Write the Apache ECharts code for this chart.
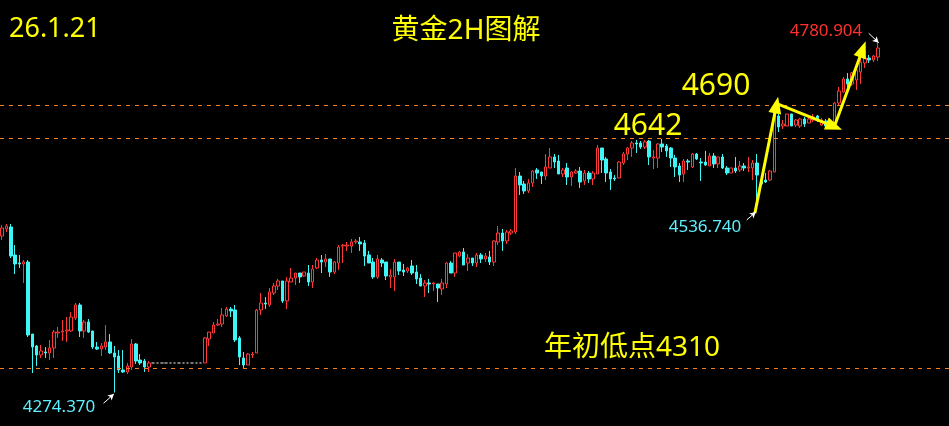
<!DOCTYPE html>
<html>
<head>
<meta charset="utf-8">
<script src="https://cdn.jsdelivr.net/npm/echarts@6/dist/echarts.min.js"></script>
<style>
html,body{margin:0;padding:0;background:#000;}
#c{width:949px;height:426px;}
</style>
</head>
<body>
<div id="c"></div>
<script>
// slots on the category axis (index -1 .. 218)
const categories = Array.from({length: 220}, (_, i) => String(i - 1));

// [open, close, low, high]
const ohlc = [
[4500.7,4512.3,4495.0,4516.6],
[4510.9,4515.2,4506.5,4518.1],
[4513.8,4471.8,4468.9,4518.1],
[4473.3,4460.3,4445.8,4487.7],
[4461.7,4460.3,4454.5,4473.3],
[4460.3,4463.1,4432.8,4466.0],
[4463.1,4357.6,4354.7,4466.0],
[4359.0,4340.2,4302.6,4359.0],
[4341.7,4328.7,4312.8,4343.1],
[4328.7,4334.5,4324.3,4343.1],
[4333.0,4331.6,4324.3,4340.2],
[4331.6,4338.8,4321.4,4350.4],
[4338.8,4361.9,4324.3,4364.8],
[4360.5,4361.9,4353.3,4369.2],
[4361.9,4363.4,4348.9,4379.3],
[4363.4,4364.8,4347.5,4383.6],
[4363.4,4383.6,4361.9,4390.8],
[4382.2,4401.0,4379.3,4403.9],
[4401.0,4363.4,4354.7,4403.9],
[4363.4,4376.4,4353.3,4379.3],
[4376.4,4361.9,4360.5,4380.7],
[4363.4,4340.2,4337.3,4363.4],
[4340.2,4337.3,4335.9,4347.5],
[4337.3,4341.7,4327.2,4346.0],
[4340.2,4347.5,4335.9,4372.0],
[4347.5,4331.6,4330.1,4359.0],
[4331.6,4325.8,4274.37,4341.7],
[4327.2,4307.0,4302.6,4335.9],
[4307.0,4304.1,4302.6,4335.9],
[4304.1,4312.8,4301.2,4317.1],
[4311.3,4344.6,4307.0,4351.8],
[4344.6,4320.0,4315.7,4346.0],
[4321.4,4317.1,4314.2,4330.1],
[4320.0,4311.3,4304.1,4322.9],
[4311.3,4317.1,4304.1,4320.0],
[4317.1,4317.1,4317.1,4317.1],
[4317.1,4317.1,4317.1,4317.1],
[4317.1,4317.1,4317.1,4317.1],
[4317.1,4317.1,4317.1,4317.1],
[4317.1,4317.1,4317.1,4317.1],
[4317.1,4317.1,4317.1,4317.1],
[4317.1,4317.1,4317.1,4317.1],
[4317.1,4317.1,4317.1,4317.1],
[4317.1,4317.1,4317.1,4317.1],
[4317.1,4317.1,4317.1,4317.1],
[4317.1,4317.1,4317.1,4317.1],
[4317.1,4317.1,4317.1,4317.1],
[4317.1,4353.3,4317.1,4354.7],
[4351.8,4361.9,4341.7,4361.9],
[4360.5,4372.0,4360.5,4376.4],
[4372.0,4373.5,4370.6,4380.7],
[4373.5,4386.5,4369.2,4396.6],
[4385.1,4395.2,4383.6,4398.1],
[4395.2,4392.3,4383.6,4398.1],
[4393.7,4350.4,4347.5,4401.0],
[4353.3,4325.8,4314.2,4356.1],
[4324.3,4314.2,4309.9,4333.0],
[4314.2,4330.1,4314.2,4331.6],
[4328.7,4330.1,4324.3,4333.0],
[4331.6,4393.7,4331.6,4395.2],
[4393.7,4403.9,4386.5,4418.3],
[4403.9,4402.4,4395.2,4412.5],
[4401.0,4419.8,4398.1,4425.6],
[4418.3,4428.4,4415.4,4432.8],
[4428.4,4435.7,4422.7,4438.6],
[4435.7,4406.8,4403.9,4435.7],
[4406.8,4435.7,4395.2,4441.5],
[4434.2,4440.0,4434.2,4454.5],
[4440.0,4447.2,4429.9,4447.2],
[4447.2,4441.5,4432.8,4447.2],
[4442.9,4448.7,4441.5,4448.7],
[4447.2,4434.2,4428.4,4458.8],
[4434.2,4453.0,4425.6,4458.8],
[4454.5,4466.0,4453.0,4468.9],
[4466.0,4463.1,4447.2,4473.3],
[4463.1,4467.5,4455.9,4474.7],
[4467.5,4448.7,4441.5,4467.5],
[4448.7,4463.1,4445.8,4464.6],
[4461.7,4484.8,4451.6,4487.7],
[4486.3,4487.7,4461.7,4489.2],
[4486.3,4487.7,4479.1,4492.1],
[4486.3,4492.1,4476.2,4496.4],
[4492.1,4493.5,4489.2,4496.4],
[4492.1,4489.2,4479.1,4499.3],
[4490.6,4471.8,4457.4,4495.0],
[4473.3,4461.7,4461.7,4479.1],
[4463.1,4441.5,4438.6,4468.9],
[4441.5,4467.5,4438.6,4473.3],
[4466.0,4461.7,4455.9,4468.9],
[4463.1,4442.9,4437.1,4463.1],
[4441.5,4444.3,4425.6,4453.0],
[4441.5,4463.1,4421.2,4467.5],
[4463.1,4450.1,4444.3,4463.1],
[4451.6,4448.7,4442.9,4460.3],
[4450.1,4454.5,4447.2,4455.9],
[4457.4,4447.2,4444.3,4466.0],
[4448.7,4438.6,4431.3,4458.8],
[4440.0,4428.4,4428.4,4445.8],
[4428.4,4432.8,4412.5,4437.1],
[4432.8,4431.3,4418.3,4438.6],
[4431.3,4432.8,4421.2,4434.2],
[4431.3,4425.6,4405.3,4431.3],
[4424.1,4432.8,4415.4,4438.6],
[4431.3,4461.7,4425.6,4463.1],
[4461.7,4447.2,4447.2,4464.6],
[4447.2,4476.2,4441.5,4476.2],
[4471.8,4477.6,4470.4,4479.1],
[4477.6,4458.8,4458.8,4483.4],
[4461.7,4468.9,4450.1,4474.7],
[4468.9,4461.7,4457.4,4468.9],
[4461.7,4473.3,4455.9,4476.2],
[4473.3,4467.5,4461.7,4476.2],
[4467.5,4471.8,4463.1,4476.2],
[4470.4,4463.1,4458.8,4479.1],
[4463.1,4493.5,4457.4,4495.0],
[4492.1,4505.1,4487.7,4515.2],
[4505.1,4493.5,4479.1,4510.9],
[4493.5,4506.5,4489.2,4509.4],
[4505.1,4508.0,4502.2,4510.9],
[4506.5,4587.5,4503.6,4599.1],
[4587.5,4574.5,4560.0,4593.3],
[4575.9,4565.8,4561.5,4580.3],
[4565.8,4577.4,4562.9,4583.2],
[4577.4,4594.7,4571.6,4596.2],
[4596.2,4591.8,4583.2,4599.1],
[4593.3,4587.5,4575.9,4593.3],
[4587.5,4600.5,4581.7,4619.3],
[4599.1,4615.0,4599.1,4628.0],
[4615.0,4607.7,4599.1,4619.3],
[4609.2,4590.4,4590.4,4617.9],
[4590.4,4596.2,4586.1,4599.1],
[4599.1,4586.1,4574.5,4606.3],
[4586.1,4593.3,4573.0,4594.7],
[4591.8,4594.7,4590.4,4597.6],
[4594.7,4578.8,4570.2,4600.5],
[4580.3,4591.8,4574.5,4596.2],
[4591.8,4583.2,4577.4,4594.7],
[4583.2,4591.8,4574.5,4594.7],
[4590.4,4628.0,4590.4,4632.3],
[4628.0,4610.6,4591.8,4628.0],
[4612.1,4591.8,4578.8,4615.0],
[4593.3,4583.2,4567.3,4597.6],
[4584.6,4583.2,4580.3,4588.9],
[4584.6,4607.7,4584.6,4609.2],
[4606.3,4619.3,4603.4,4622.2],
[4619.3,4628.0,4610.6,4629.4],
[4628.0,4635.2,4615.0,4638.1],
[4635.2,4633.8,4620.8,4639.6],
[4635.2,4629.4,4626.5,4638.1],
[4629.4,4636.7,4626.5,4639.6],
[4638.1,4615.0,4603.4,4639.6],
[4613.5,4615.0,4597.6,4625.1],
[4613.5,4633.8,4599.1,4635.2],
[4633.8,4629.4,4622.2,4641.0],
[4630.9,4623.7,4615.0,4633.8],
[4628.0,4613.5,4600.5,4629.4],
[4613.5,4600.5,4586.1,4617.9],
[4602.0,4588.9,4578.8,4606.3],
[4590.4,4609.2,4578.8,4612.1],
[4609.2,4607.7,4596.2,4612.1],
[4600.5,4619.3,4599.1,4620.8],
[4619.3,4612.1,4610.6,4620.8],
[4607.7,4606.3,4580.3,4613.5],
[4607.7,4603.4,4602.0,4623.7],
[4602.0,4616.4,4602.0,4620.8],
[4616.4,4604.9,4599.1,4620.8],
[4604.9,4615.0,4599.1,4615.0],
[4615.0,4599.1,4597.6,4619.3],
[4599.1,4591.8,4588.9,4602.0],
[4591.8,4599.1,4591.8,4599.1],
[4599.1,4594.7,4591.8,4615.0],
[4596.2,4602.0,4593.3,4609.2],
[4602.0,4599.1,4594.7,4606.3],
[4599.1,4600.5,4593.3,4615.0],
[4599.1,4606.3,4581.7,4610.6],
[4606.3,4588.9,4536.74,4619.3],
[4580.3,4575.9,4574.5,4583.2],
[4581.7,4578.8,4577.4,4591.8],
[4581.7,4594.7,4580.3,4596.2],
[4593.3,4688.7,4593.3,4690.2],
[4674.3,4658.4,4651.1,4677.2],
[4659.8,4662.7,4655.5,4668.5],
[4659.8,4677.2,4659.8,4677.2],
[4677.2,4659.8,4659.8,4677.2],
[4661.2,4668.5,4658.4,4669.9],
[4659.8,4669.9,4656.9,4671.4],
[4669.9,4662.7,4658.4,4672.8],
[4664.1,4669.9,4664.1,4672.8],
[4668.5,4672.8,4665.6,4677.2],
[4674.3,4668.5,4665.6,4675.7],
[4661.2,4668.5,4659.8,4671.4],
[4667.0,4659.8,4658.4,4669.9],
[4665.6,4659.8,4656.9,4668.5],
[4665.6,4693.1,4659.8,4694.5],
[4693.1,4710.4,4690.2,4716.2],
[4709.0,4727.8,4707.5,4730.7],
[4727.8,4720.5,4716.2,4736.4],
[4720.5,4736.4,4717.6,4737.9],
[4726.3,4740.8,4711.9,4746.6],
[4737.9,4752.3,4720.5,4763.9],
[4750.9,4758.1,4743.7,4765.4],
[4758.1,4755.2,4750.9,4762.5],
[4755.2,4761.0,4752.3,4762.5],
[4759.6,4772.6,4753.8,4780.904]
];

// horizontal reference levels
const refLevels = [4690, 4642, 4310];

// yellow trend arrows [[idx, price] -> [idx, price]]
const trendArrows = [
  [[173.5, 4533.6], [178.5, 4690.2]],
  [[179.0, 4691.0], [191.9, 4658.8]],
  [[191.9, 4658.8], [198.5, 4770.7]]
];

// small white pointer arrows
const pointerArrows = [
  [[22.5, 4258.8], [24.9, 4272.3]],
  [[171.6, 4523.9], [173.7, 4535.4]],
  [[199.9, 4793.8], [202.2, 4780.3]]
];

const chart = echarts.init(document.getElementById('c'), null, {renderer: 'canvas'});

const txt = (t, x, y, size, color, align) => ({
  type: 'text', x: x, y: y, silent: true,
  style: {text: t, fill: color, font: size + 'px "Noto Sans", "Noto Sans CJK SC", sans-serif',
          textAlign: align || 'left', textVerticalAlign: 'middle'}
});

chart.setOption({
  backgroundColor: '#000000',
  animation: false,
  grid: {left: -3.2, top: 0, width: 953.33, height: 426, containLabel: false},
  xAxis: [
    {type: 'category', data: categories, boundaryGap: true, show: false},
    {type: 'value', min: -1.5, max: 218.5, show: false}
  ],
  yAxis: {type: 'value', min: 4226, max: 4842, show: false, splitLine: {show: false}},
  series: [
    {
      type: 'candlestick',
      data: ohlc,
      barWidth: 3,
      itemStyle: {
        color: '#000000', color0: '#3ff6f6',
        borderColor: '#ff3838', borderColor0: '#3ff6f6',
        borderColorDoji: '#a0a0a0', borderWidth: 1
      },
      markLine: {
        silent: true, symbol: 'none', animation: false,
        label: {show: false},
        lineStyle: {color: '#f58220', type: [4, 5], width: 1},
        data: refLevels.map(v => ({yAxis: v}))
      }
    },
    {
      type: 'line', xAxisIndex: 1, data: [],
      markLine: {
        silent: true, animation: false,
        symbol: ['none', 'triangle'], symbolSize: [13, 17],
        label: {show: false},
        lineStyle: {color: '#ffff00', type: 'solid', width: 3},
        data: trendArrows.map(a => [{coord: a[0]}, {coord: a[1]}])
      }
    },
    {
      type: 'line', xAxisIndex: 1, data: [],
      markLine: {
        silent: true, animation: false,
        symbol: ['none', 'arrow'], symbolSize: [5, 6],
        label: {show: false},
        lineStyle: {color: '#ffffff', type: 'solid', width: 1},
        data: pointerArrows.map(a => [{coord: a[0]}, {coord: a[1]}])
      }
    }
  ],
  graphic: [
    txt('26.1.21', 9, 29, 27, '#ffff00'),
    txt('黄金2H图解', 466, 31, 28, '#ffff00', 'center'),
    txt('4690', 716, 86, 30, '#ffff00', 'center'),
    txt('4642', 648, 126, 30, '#ffff00', 'center'),
    txt('年初低点4310', 632, 348, 28, '#ffff00', 'center'),
    txt('4780.904', 826, 31, 17, '#ff3030', 'center'),
    txt('4536.740', 705, 227, 17, '#5ef0ff', 'center'),
    txt('4274.370', 59, 407, 17, '#5ef0ff', 'center')
  ]
});
</script>
</body>
</html>
